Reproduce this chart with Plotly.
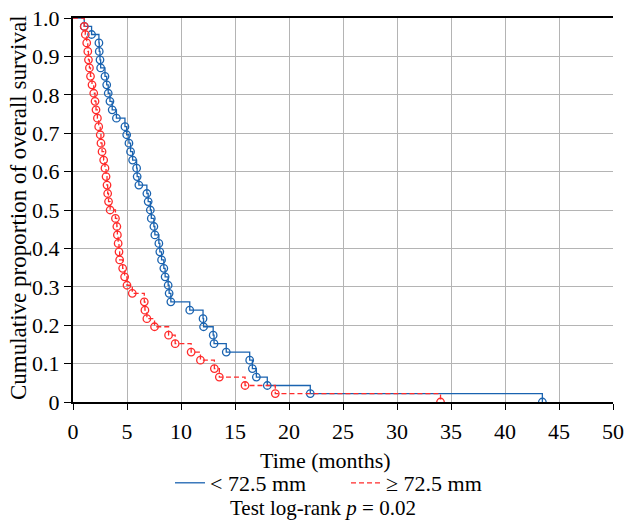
import plotly.graph_objects as go

# Kaplan-Meier event times (months) and survival after each event
small_times = [1.04, 1.72, 2.40, 2.43, 2.50, 2.56, 2.96, 3.12, 3.26, 3.42,
               3.63, 4.02, 4.81, 4.97, 5.18, 5.33, 5.52, 5.89, 5.94, 6.10,
               6.84, 6.96, 7.16, 7.25, 7.49, 7.58, 7.95, 8.04, 8.20, 8.41,
               8.53, 8.81, 8.90, 9.06, 10.81, 12.04, 12.09, 12.98, 13.06, 14.19,
               16.36, 16.61, 16.98, 17.99, 21.97, 43.46]
small_surv = [0.978, 0.957, 0.935, 0.913, 0.891, 0.870, 0.848, 0.826, 0.804, 0.783,
              0.761, 0.739, 0.717, 0.696, 0.674, 0.652, 0.630, 0.609, 0.587, 0.565,
              0.543, 0.522, 0.500, 0.478, 0.457, 0.435, 0.413, 0.391, 0.370, 0.348,
              0.326, 0.304, 0.283, 0.261, 0.239, 0.217, 0.196, 0.174, 0.152, 0.130,
              0.109, 0.087, 0.065, 0.043, 0.022, 0.0]

large_times = [1.04, 1.14, 1.27, 1.37, 1.43, 1.52, 1.62, 1.76, 1.92, 2.04,
               2.13, 2.26, 2.38, 2.52, 2.59, 2.69, 2.84, 2.96, 3.06, 3.15,
               3.21, 3.29, 3.44, 3.93, 4.06, 4.11, 4.18, 4.26, 4.32, 4.60,
               4.78, 5.00, 5.49, 6.60, 6.66, 6.84, 7.55, 8.85, 9.46, 10.94,
               11.80, 13.09, 13.55, 15.93, 18.73, 34.03]
large_surv = [0.978, 0.957, 0.935, 0.913, 0.891, 0.870, 0.848, 0.826, 0.804, 0.783,
              0.761, 0.739, 0.717, 0.696, 0.674, 0.652, 0.630, 0.609, 0.587, 0.565,
              0.543, 0.522, 0.500, 0.478, 0.457, 0.435, 0.413, 0.391, 0.370, 0.348,
              0.326, 0.304, 0.283, 0.261, 0.239, 0.217, 0.196, 0.174, 0.152, 0.130,
              0.109, 0.087, 0.065, 0.043, 0.022, 0.0]

x_ticks = [0, 5, 10, 15, 20, 25, 30, 35, 40, 45, 50]
y_ticks = [0, 0.1, 0.2, 0.3, 0.4, 0.5, 0.6, 0.7, 0.8, 0.9, 1.0]
y_labels = ["0", "0.1", "0.2", "0.3", "0.4", "0.5", "0.6", "0.7", "0.8", "0.9", "1.0"]

BLUE = "#1a63b0"
RED = "#ff2b2b"
FONT = "Liberation Serif"
FS = 22

# plot area in pixels
plot_l, plot_r, plot_t, plot_b = 73, 613, 18, 402
W, H = 624, 520

def px_x(px):
    return (px - plot_l) / (plot_r - plot_l)

def px_y(py):
    return (plot_b - py) / (plot_b - plot_t)

fig = go.Figure()

groups = [
    ("< 72.5 mm", small_times, small_surv, BLUE, "solid"),
    ("≥ 72.5 mm", large_times, large_surv, RED, "5px,3px"),
]
for name, t, s, color, dash in groups:
    # step curve starting at full survival
    fig.add_trace(go.Scatter(
        x=[0] + t, y=[1.0] + s, mode="lines", line_shape="hv",
        line=dict(color=color, width=1.3, dash=dash), name=name,
    ))
    # open circles at each event
    fig.add_trace(go.Scatter(
        x=t, y=s, mode="markers", showlegend=False,
        marker=dict(symbol="circle-open", size=7.5, color=color,
                    line=dict(width=1.3, color=color)),
    ))

fig.update_layout(
    width=W, height=H,
    margin=dict(l=plot_l, r=W - plot_r, t=plot_t, b=H - plot_b, autoexpand=False),
    paper_bgcolor="white", plot_bgcolor="white",
    font=dict(family=FONT, size=FS, color="black"),
    showlegend=True,
    legend=dict(orientation="h", x=px_x(170), xanchor="left",
                y=px_y(462), yanchor="top",
                font=dict(size=FS), bgcolor="rgba(0,0,0,0)",
                entrywidth=131, entrywidthmode="pixels", itemwidth=30,
                tracegroupgap=0),
    xaxis=dict(range=[0, 50], tickvals=x_ticks, ticktext=[str(v) for v in x_ticks],
               showgrid=True, gridcolor="#b4b4b4", gridwidth=1, automargin=False,
               ticklabeloverflow="allow", ticklabelstandoff=3,
               showline=True, linecolor="black", linewidth=2, mirror=True,
               ticks="outside", ticklen=6, tickwidth=1, tickcolor="black",
               zeroline=False, tickfont=dict(size=FS)),
    yaxis=dict(range=[0, 1.0], tickvals=y_ticks, ticktext=y_labels,
               showgrid=True, gridcolor="#b4b4b4", gridwidth=1, automargin=False,
               ticklabeloverflow="allow",
               showline=True, linecolor="black", linewidth=2,
               ticks="outside", ticklen=7, tickwidth=1, tickcolor="black",
               zeroline=False, tickfont=dict(size=FS)),
    annotations=[
        dict(text="Time (months)", x=px_x(325), y=px_y(460),
             xref="paper", yref="paper", xanchor="center", yanchor="middle",
             showarrow=False, font=dict(size=FS)),
        dict(text="Cumulative proportion of overall survival", textangle=-90,
             x=px_x(18), y=px_y(208), xref="paper", yref="paper",
             xanchor="center", yanchor="middle",
             showarrow=False, font=dict(size=23)),
        dict(text="Test log-rank <i>p</i> = 0.02", x=px_x(323), y=px_y(508),
             xref="paper", yref="paper", xanchor="center", yanchor="middle",
             borderpad=0, showarrow=False, font=dict(size=21)),
    ],
)

fig.write_html("out.html")
